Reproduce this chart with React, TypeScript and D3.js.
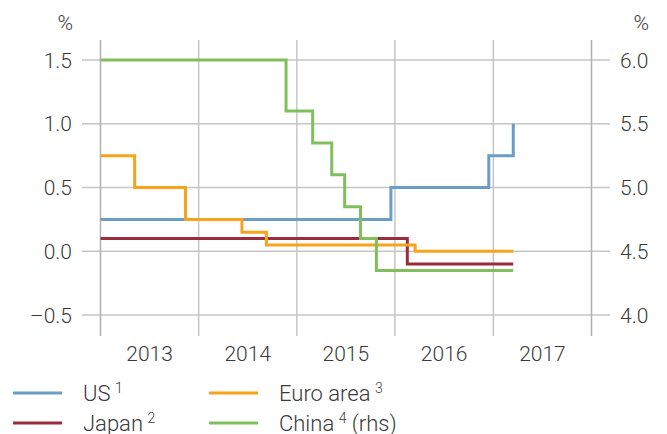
import * as d3 from 'd3'
import React, { useEffect, useRef } from 'react'

// policy rates, change dates and levels (step series)
const usDates = ['2013-01-01', '2015-12-17', '2016-12-15', '2017-03-16']
const usValues = [0.25, 0.5, 0.75, 1.0]

const japanDates = ['2013-01-01', '2016-02-16', '2017-03-16']
const japanValues = [0.1, -0.1, -0.1]

const euroDates = ['2013-01-01', '2013-05-08', '2013-11-13', '2014-06-11', '2014-09-10', '2016-03-16', '2017-03-16']
const euroValues = [0.75, 0.5, 0.25, 0.15, 0.05, 0.0, 0.0]

const chinaDates = ['2013-01-01', '2014-11-22', '2015-03-01', '2015-05-11', '2015-06-28', '2015-08-26', '2015-10-24', '2017-03-16']
const chinaValues = [6.0, 5.6, 5.35, 5.1, 4.85, 4.6, 4.35, 4.35]

const years = [2013, 2014, 2015, 2016, 2017]
const leftTicks = [-0.5, 0.0, 0.5, 1.0, 1.5]
const rightTicks = [4.0, 4.5, 5.0, 5.5, 6.0]

const FONT = 'Roboto, "Helvetica Neue", Arial, sans-serif'
const TEXT = '#3a3a3a'
const GRID = '#c6c6c6'

const fmt = (v: number) => (v < 0 ? '\u2013' + d3.format('.1f')(-v) : d3.format('.1f')(v))

function App () {
  const ref = useRef<SVGSVGElement | null>(null)

  useEffect(() => {
    document.body.style.margin = '0'
    const width = 667; const height = 434
    const svg = d3.select(ref.current)
    svg.selectAll('*').remove()

    const parse = d3.timeParse('%Y-%m-%d')
    const x = d3.scaleTime()
      .domain([new Date(2013, 0, 1), new Date(2018, 0, 1)])
      .range([100.5, 591.5])
    const yL = d3.scaleLinear().domain([-0.5, 1.5]).range([315, 60])
    const yR = d3.scaleLinear().domain([4.0, 6.0]).range([315, 60])
    const top = 40; const bottom = 336

    // horizontal grid
    svg.append('g').selectAll('line').data(leftTicks).enter().append('line')
      .attr('x1', 82).attr('x2', 610)
      .attr('y1', d => yL(d)).attr('y2', d => yL(d))
      .attr('stroke', GRID).attr('stroke-width', 1.5)

    // vertical grid at year boundaries (incl. both axes)
    const bounds = d3.range(2013, 2019).map(yr => new Date(yr, 0, 1))
    svg.append('g').selectAll('line').data(bounds).enter().append('line')
      .attr('x1', d => x(d)).attr('x2', d => x(d))
      .attr('y1', top).attr('y2', bottom)
      .attr('stroke', (d, i) => (i === 0 || i === bounds.length - 1) ? '#b0b0b0' : GRID)
      .attr('stroke-width', 1.5)

    // left tick labels
    svg.append('g').selectAll('text').data(leftTicks).enter().append('text')
      .attr('x', 72).attr('y', d => yL(d))
      .attr('dy', '0.36em')
      .attr('text-anchor', 'end')
      .text(d => fmt(d))
    svg.append('text').attr('x', 73).attr('y', 30).attr('text-anchor', 'end').text('%')

    // right tick labels
    svg.append('g').selectAll('text').data(rightTicks).enter().append('text')
      .attr('x', 620).attr('y', d => yR(d))
      .attr('dy', '0.36em')
      .text(d => fmt(d))
    svg.append('text').attr('x', 649).attr('y', 30).attr('text-anchor', 'end').text('%')

    // year labels
    svg.append('g').selectAll('text').data(years).enter().append('text')
      .attr('x', d => (x(new Date(d, 0, 1)) + x(new Date(d + 1, 0, 1))) / 2)
      .attr('y', 361)
      .attr('text-anchor', 'middle')
      .text(d => d)

    svg.selectAll('text')
      .attr('font-family', FONT).attr('font-weight', 300)
      .attr('font-size', 21).attr('fill', TEXT)

    const series = [
      { dates: usDates, values: usValues, y: yL, color: '#6b9dc6' },
      { dates: japanDates, values: japanValues, y: yL, color: '#9c2b3b' },
      { dates: euroDates, values: euroValues, y: yL, color: '#f9a21b' },
      { dates: chinaDates, values: chinaValues, y: yR, color: '#80bf5c' }
    ]

    series.forEach(s => {
      const pts = s.dates.map((d, i) => [parse(d) as Date, s.values[i]] as [Date, number])
      const line = d3.line<[Date, number]>()
        .x(d => x(d[0]))
        .y(d => s.y(d[1]))
        .curve(d3.curveStepAfter)
      svg.append('path')
        .attr('d', line(pts))
        .attr('fill', 'none')
        .attr('stroke', s.color)
        .attr('stroke-width', 3)
    })

    // legend
    const legend = [
      { label: 'US', sup: '1', extra: '', color: '#6b9dc6', lx: 13, ly: 393 },
      { label: 'Japan', sup: '2', extra: '', color: '#9c2b3b', lx: 13, ly: 423 },
      { label: 'Euro area', sup: '3', extra: '', color: '#f9a21b', lx: 209, ly: 393 },
      { label: 'China', sup: '4', extra: ' (rhs)', color: '#80bf5c', lx: 209, ly: 423 }
    ]
    const lg = svg.append('g').selectAll('g').data(legend).enter().append('g')
    lg.append('line')
      .attr('x1', d => d.lx).attr('x2', d => d.lx + 49)
      .attr('y1', d => d.ly).attr('y2', d => d.ly)
      .attr('stroke', d => d.color).attr('stroke-width', 3)
    const t = lg.append('text')
      .attr('x', d => d.lx + 70).attr('y', d => d.ly + 8)
      .attr('font-family', FONT).attr('font-weight', 300)
      .attr('font-size', 22).attr('fill', TEXT)
    t.append('tspan').text(d => d.label + '\u2009')
    t.append('tspan').attr('font-size', 14).attr('dy', -8).text(d => d.sup)
    t.append('tspan').attr('dy', 8).text(d => d.extra)

    svg.attr('width', width).attr('height', height)
  }, [])

  return <svg ref={ref} width={667} height={434} style={{ display: 'block', background: '#fff' }} />
}

export default App
